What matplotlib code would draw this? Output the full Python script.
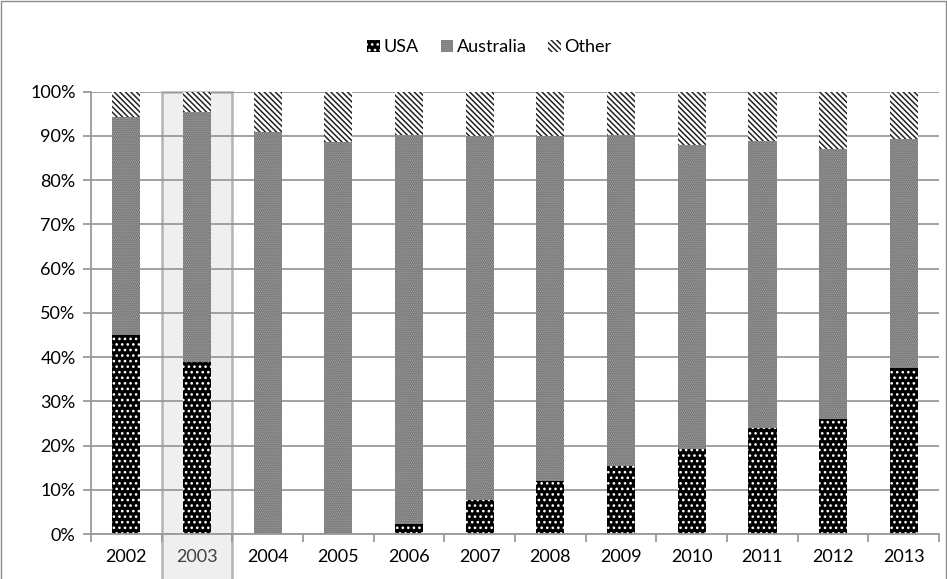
import matplotlib.pyplot as plt
from matplotlib.patches import Rectangle
import numpy as np

plt.rcParams['font.family'] = ['Lato', 'DejaVu Sans']
plt.rcParams['hatch.linewidth'] = 1.1

years = ["2002", "2003", "2004", "2005", "2006", "2007",
         "2008", "2009", "2010", "2011", "2012", "2013"]

# shares in percent, each year sums to 100
usa = [45.0, 38.8, 0.0, 0.0, 2.3, 7.6, 11.9, 15.3, 19.2, 23.9, 26.0, 37.5]
australia_top = [94.2, 95.4, 91.0, 88.7, 90.3, 90.0, 89.9, 90.2, 88.0, 88.8, 87.1, 89.4]
australia = [a - u for a, u in zip(australia_top, usa)]
other = [100 - a for a in australia_top]

highlight = "2003"

fig = plt.figure(figsize=(9.47, 5.79), dpi=100)
ax = fig.add_axes([0.0961, 0.0777, 0.8955, 0.7639])
ax.set_facecolor("none")

x = np.arange(len(years))
w = 0.4

ax.bar(x, usa, w, color="black", edgecolor="white", linewidth=0,
       hatch="...", label="USA", zorder=2)
ax.bar(x, australia, w, bottom=usa, color="#4e4e4e", edgecolor="#bdbdbd",
       linewidth=0, hatch="........", label="Australia", zorder=2)
ax.bar(x, other, w, bottom=australia_top, color="white", edgecolor="#222222",
       linewidth=0, hatch="\\" * 6, label="Other", zorder=2)

# shaded column behind the highlighted year, running down past the labels
hi = years.index(highlight)
ax.add_patch(Rectangle((hi - 0.5, -0.2), 1.0, 1.2, transform=ax.get_xaxis_transform(),
                       facecolor="#efefef", edgecolor="#b4b4b4", linewidth=1.8,
                       clip_on=False, zorder=0))

ax.set_xlim(-0.5, len(years) - 0.5)
ax.set_ylim(0, 100)
ax.set_yticks(np.arange(0, 101, 10))
ax.set_yticklabels([f"{v}%" for v in range(0, 101, 10)])
ax.yaxis.grid(True, color="#9a9a9a", linewidth=1.3, zorder=0.5)
ax.set_axisbelow(True)

ax.set_xticks(x)
ax.set_xticklabels(years)
ax.set_xticks(np.arange(-0.5, len(years)), minor=True)
ax.tick_params(axis="x", which="major", length=0, pad=11, labelsize=13)
ax.tick_params(axis="x", which="minor", length=6, color="#9a9a9a", width=1.3)
ax.tick_params(axis="y", length=6, color="#9a9a9a", width=1.3, pad=5, labelsize=13)
for lbl in ax.get_xticklabels():
    if lbl.get_text() == highlight:
        lbl.set_color("#404040")

for side in ["top", "right"]:
    ax.spines[side].set_visible(False)
for side in ["left", "bottom"]:
    ax.spines[side].set_color("#9a9a9a")
    ax.spines[side].set_linewidth(1.3)

fig.legend(loc="center", bbox_to_anchor=(0.517, 0.918), ncol=3, frameon=False,
           fontsize=13, handlelength=0.7, handleheight=0.7, handletextpad=0.2,
           columnspacing=1.2)

# thin frame around the chart (bottom edge runs off the image)
fig.patches.append(Rectangle((0.001, -0.01), 0.998, 1.008, transform=fig.transFigure,
                             fill=False, edgecolor="#8c8c8c", linewidth=1.0))

fig.savefig("out.png", dpi=100)
